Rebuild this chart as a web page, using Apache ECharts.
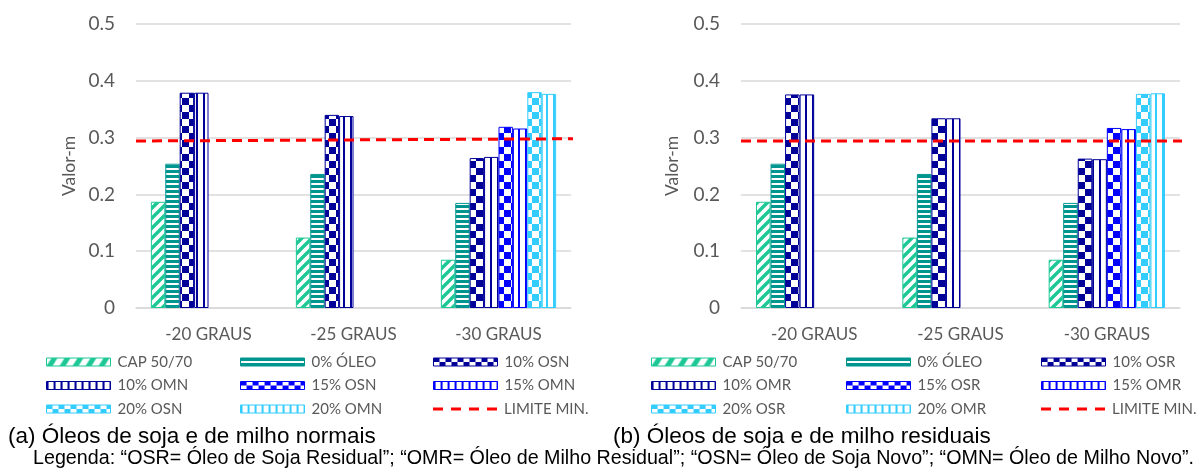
<!DOCTYPE html>
<html>
<head>
<meta charset="utf-8">
<script src="https://cdn.jsdelivr.net/npm/echarts@6/dist/echarts.min.js"></script>
<style>
html,body{margin:0;padding:0;background:#fff;}
#c{width:1204px;height:470px;}
</style>
</head>
<body>
<div id="c"></div>
<script>
// ---------- DATA ----------
const categories = ['-20 GRAUS', '-25 GRAUS', '-30 GRAUS'];
const yTicks = [0, 0.1, 0.2, 0.3, 0.4, 0.5];

// (a) normal oils
const capA   = [0.187, 0.124, 0.085];
const oleo0A = [0.254, 0.236, 0.185];
const osn10  = [0.379, 0.340, 0.264];
const omn10  = [0.379, 0.338, 0.266];
const osn15  = [null, null, 0.319];
const omn15  = [null, null, 0.316];
const osn20  = [null, null, 0.380];
const omn20  = [null, null, 0.377];
const limitA = [0.294, 0.298];

// (b) residual oils
const capB   = [0.187, 0.124, 0.085];
const oleo0B = [0.254, 0.236, 0.185];
const osr10  = [0.376, 0.334, 0.263];
const omr10  = [0.376, 0.334, 0.262];
const osr15  = [null, null, 0.317];
const omr15  = [null, null, 0.315];
const osr20  = [null, null, 0.377];
const omr20  = [null, null, 0.378];
const limitB = [0.294, 0.294];

const namesA = ['CAP 50/70', '0% ÓLEO', '10% OSN', '10% OMN', '15% OSN', '15% OMN', '20% OSN', '20% OMN', 'LIMITE MIN.'];
const namesB = ['CAP 50/70', '0% ÓLEO', '10% OSR', '10% OMR', '15% OSR', '15% OMR', '20% OSR', '20% OMR', 'LIMITE MIN.'];

// ---------- STYLES ----------
const GREEN = '#1EC896', TEAL = '#00968F', NAVY = '#000099', BLUE = '#0000FF', LIGHT = '#33CCFF';
const FONT = 'Lato';
const TXT = '#595959';
const DASH_ICON = 'path://M0,0h10v3h-10zM18,0h10v3h-10zM36,0h10v3h-10zM54,0h10v3h-10z';

function tile(w, h, draw) {
  const c = document.createElement('canvas');
  c.width = w; c.height = h;
  const g = c.getContext('2d');
  g.fillStyle = '#fff'; g.fillRect(0, 0, w, h);
  draw(g);
  return { image: c, repeat: 'repeat' };
}
function diag(color) {
  return tile(10, 10, g => {
    g.strokeStyle = color; g.lineWidth = 3.4;
    g.beginPath();
    g.moveTo(-2, 12); g.lineTo(12, -2);
    g.moveTo(-7, 7); g.lineTo(7, -7);
    g.moveTo(3, 17); g.lineTo(17, 3);
    g.stroke();
  });
}
function hstripe(color) {
  return tile(4, 5, g => { g.fillStyle = color; g.fillRect(0, 0, 4, 3); });
}
function checker(color) {
  return tile(14, 14, g => { g.fillStyle = color; g.fillRect(0, 0, 7, 7); g.fillRect(7, 7, 7, 7); });
}
function vstripe(color) {
  return tile(7, 4, g => { g.fillStyle = color; g.fillRect(0, 0, 2, 4); });
}
// legend-icon variants (icon is 64 x 8)
function diagL(color) {
  return tile(13, 8, g => {
    g.fillStyle = color; g.beginPath();
    g.moveTo(0, 8); g.lineTo(6, 8); g.lineTo(11, 0); g.lineTo(5, 0); g.closePath(); g.fill();
    g.beginPath(); g.moveTo(13, 8); g.lineTo(19, 8); g.lineTo(24, 0); g.lineTo(18, 0); g.closePath(); g.fill();
  });
}
function hstripeL(color) {
  return tile(4, 8, g => { g.fillStyle = color; g.fillRect(0, 0, 4, 3); g.fillRect(0, 5, 4, 3); });
}
function checkerL(color) {
  return tile(12, 8, g => { g.fillStyle = color; g.fillRect(0, 0, 6, 4); g.fillRect(6, 4, 6, 4); });
}

const styles = [
  [diag(GREEN), GREEN, diagL(GREEN)],
  [hstripe(TEAL), TEAL, hstripeL(TEAL)],
  [checker(NAVY), NAVY, checkerL(NAVY)],
  [vstripe(NAVY), NAVY, vstripe(NAVY)],
  [checker(BLUE), BLUE, checkerL(BLUE)],
  [vstripe(BLUE), BLUE, vstripe(BLUE)],
  [checker(LIGHT), LIGHT, checkerL(LIGHT)],
  [vstripe(LIGHT), LIGHT, vstripe(LIGHT)]
];

function bars(names, datas, gi) {
  return datas.map((d, i) => ({
    name: names[i], type: 'bar', xAxisIndex: gi * 2, yAxisIndex: gi,
    data: d, barGap: '0%', barCategoryGap: '20.5%', legendIcon: 'rect',
    itemStyle: { color: styles[i][0], borderColor: styles[i][1], borderWidth: 1 },
    emphasis: { disabled: true }, animation: false
  }));
}
function limitLine(name, vals, gi) {
  return {
    name: name, type: 'line', xAxisIndex: gi * 2 + 1, yAxisIndex: gi,
    data: vals.map((v, i) => [i, v]), symbol: 'none', clip: false,
    lineStyle: { color: '#FF0000', width: 3, type: [10, 6] },
    itemStyle: { color: '#FF0000' }, animation: false, z: 5
  };
}

const grids = [
  { left: 136, top: 24, width: 435, height: 284 },
  { left: 741, top: 24, width: 439, height: 284 }
];
const limitMax = [0.988, 0.97];

const xAxes = [], yAxes = [];
grids.forEach((g, gi) => {
  xAxes.push({
    type: 'category', gridIndex: gi, data: categories,
    axisLine: { show: true, lineStyle: { color: '#D9D9D9', width: 1.5 } },
    axisTick: { show: false },
    axisLabel: { color: TXT, fontFamily: FONT, fontSize: 17, margin: 18 }
  });
  xAxes.push({ type: 'value', gridIndex: gi, min: 0, max: limitMax[gi], show: false });
  yAxes.push({
    type: 'value', gridIndex: gi, min: yTicks[0], max: yTicks[yTicks.length - 1], interval: 0.1,
    name: 'Valor-m', nameLocation: 'middle', nameGap: gi === 0 ? 58 : 60, nameRotate: 90,
    nameTextStyle: { color: TXT, fontFamily: FONT, fontSize: 17.5 },
    axisLine: { show: false }, axisTick: { show: false },
    splitLine: { lineStyle: { color: '#D9D9D9', width: 1.5 } },
    axisLabel: { color: TXT, fontFamily: FONT, fontSize: 19, margin: 21 }
  });
});

const TOP0 = 354, ROW = 23.5;
function legends(names, lefts) {
  const cols = [[0, 3, 6], [1, 4, 7], [2, 5]];
  const base = {
    orient: 'vertical', padding: 0, itemWidth: 64, itemHeight: 8, itemGap: ROW - 16, selectedMode: false,
    textStyle: { color: TXT, fontFamily: FONT, fontSize: 15, lineHeight: 16, padding: [0, 0, 0, 2] }
  };
  const out = cols.map((c, ci) => Object.assign({}, base, {
    left: lefts[ci], top: TOP0,
    data: c.map(i => ({ name: names[i], icon: 'rect', itemStyle: { color: styles[i][2], borderColor: styles[i][1], borderWidth: 1 } }))
  }));
  out.push(Object.assign({}, base, {
    left: lefts[2], top: TOP0 + 2 * ROW, itemHeight: 3,
    data: [{ name: names[8], icon: DASH_ICON }]
  }));
  return out;
}

const series = [].concat(
  bars(namesA, [capA, oleo0A, osn10, omn10, osn15, omn15, osn20, omn20], 0),
  [limitLine('LIMITE MIN.', limitA, 0)],
  bars(namesB, [capB, oleo0B, osr10, omr10, osr15, omr15, osr20, omr20], 1),
  [limitLine('LIMITE MIN.', limitB, 1)]
);

const chart = echarts.init(document.getElementById('c'), null, { renderer: 'canvas' });
chart.setOption({
  backgroundColor: '#fff',
  animation: false,
  grid: grids,
  xAxis: xAxes,
  yAxis: yAxes,
  legend: legends(namesA, [46, 240, 433]).concat(legends(namesB, [651, 846, 1041])),
  series: series,
  graphic: [
    { type: 'text', left: 8, top: 425, style: { text: '(a) Óleos de soja e de milho normais', fill: '#000', font: '22.5px "Liberation Sans", Arial, sans-serif' } },
    { type: 'text', left: 613, top: 425, style: { text: '(b) Óleos de soja e de milho residuais', fill: '#000', font: '22.5px "Liberation Sans", Arial, sans-serif' } },
    { type: 'text', left: 33, top: 449, style: { text: 'Legenda: “OSR= Óleo de Soja Residual”; “OMR= Óleo de Milho Residual”; “OSN= Óleo de Soja Novo”; “OMN= Óleo de Milho Novo”.', fill: '#000', font: '19.7px "Liberation Sans", Arial, sans-serif' } }
  ]
});
</script>
</body>
</html>
